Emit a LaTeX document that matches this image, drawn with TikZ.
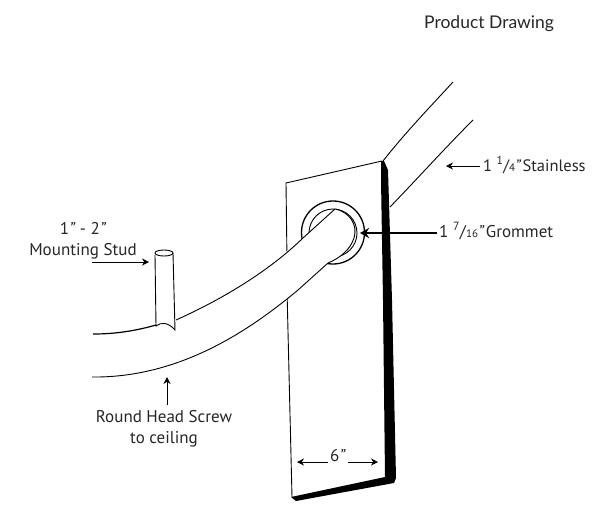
\documentclass[tikz,border=0pt]{standalone}
\usepackage{fontspec}
\setmainfont{PT Sans}
\newfontfamily\titlefont{Lato}
\usetikzlibrary{arrows.meta}
\newcommand{\inch}{\textit{\char"22}}
\newcommand{\denom}[1]{{\fontsize{11}{13}\selectfont #1}}
\tikzset{
  callout/.style={font=\fontsize{17}{21}\selectfont, text=black!85, inner sep=0pt},
  thin line/.style={line width=0.9pt},
  pointer/.style={line width=0.8pt, -{Stealth[length=7pt,width=7pt]}},
}
\begin{document}
\begin{tikzpicture}[x=1pt,y=-1pt]
  \useasboundingbox (0,0) rectangle (602,504);
  %title
  \node[callout, font=\titlefont\fontsize{17.5}{20}\selectfont, anchor=base west] (title) at (424,28) {Product Drawing};
  %plate
  \draw[thin line] (287,290) -- (292,497);
  \draw[thin line] (287,260) -- (286,183) -- (382,161);
  \fill[black] (381,161) -- (384,161) -- (388,170) -- (392,300) -- (396,478) -- (394,483)
    -- (296,501) -- (291,497) -- (385,477) -- (383,300) -- (381,180) -- cycle;
  %grommet
  \draw[line width=1.3pt] (333,232.5) circle (31.5);
  \draw[thin line] (333,233) circle (24);
  %tube through the grommet
  \fill[white] (92,334) .. controls (150,330) and (230,300) .. (303,238)
    -- (335,209) .. controls (350,212) and (358,225) .. (354,238)
    .. controls (350,250) and (340,258) .. (328,263)
    -- (298,290) .. controls (250,330) and (180,378) .. (92,377) -- cycle;
  \draw[thin line] (176,320) .. controls (225,298) and (270,270) .. (303,238) -- (335,209)
    .. controls (350,212) and (358,225) .. (354,238)
    .. controls (350,250) and (340,258) .. (328,263)
    -- (298,290) .. controls (250,330) and (180,378) .. (92,377);
  \draw[line width=1.2pt] (93,334) .. controls (115,334) and (135,331) .. (156,325);
  %upper tube
  \draw[thin line] (383,161) .. controls (405,133) and (430,107) .. (453,82);
  \draw[thin line] (390,207) .. controls (418,178) and (445,148) .. (473,120);
  %stud
  \draw[thin line] (155,255) -- (156,326) .. controls (161,322) and (168,322) .. (175,330) -- (173,253);
  \draw[thin line] (155,253) arc[start angle=180, end angle=540, x radius=9, y radius=3];
  %labels
  \node[callout, font=\fontsize{16.5}{20}\selectfont, anchor=base west] (stainless) at (483,171) {1 \textsuperscript{1}/\denom{4}\inch\hspace{1.2pt}Stainless};
  \coordinate (stainlesstip) at (446,166);
  \draw[pointer] (stainless.west |- stainlesstip) ++(-3,0) -- (stainlesstip);
  \node[callout, anchor=base west] (grommet) at (439,237) {1 \textsuperscript{7}/\denom{16}\inch\hspace{1.5pt}Grommet};
  \coordinate (grommettip) at (360,233);
  \draw[line width=1.5pt, -{Stealth[length=9pt,width=10pt]}] (grommet.west |- grommettip) ++(-2,0) -- (grommettip);
  \node[callout, align=center] (stud) at (83,240.5) {1\inch{} - 2\inch\\Mounting Stud};
  \coordinate (studstart) at (92,262);
  \coordinate (studtip) at (149,262);
  \draw[pointer] (studstart) -- (studtip);
  \node[callout, align=center] (screw) at (164,428.5) {Round Head Screw\\to ceiling};
  \coordinate (screwtip) at (167,377);
  \coordinate (screwstart) at (167,405);
  \draw[pointer] (screwstart) -- (screwtip);
  \node[callout] (six) at (338,456) {6\inch};
  \coordinate (sixleft) at (297,462);
  \coordinate (sixright) at (378,462);
  \draw[pointer] (six.west |- sixleft) ++(-2,0) -- (sixleft);
  \draw[pointer] (six.east |- sixright) ++(2,0) -- (sixright);
\end{tikzpicture}
\end{document}
